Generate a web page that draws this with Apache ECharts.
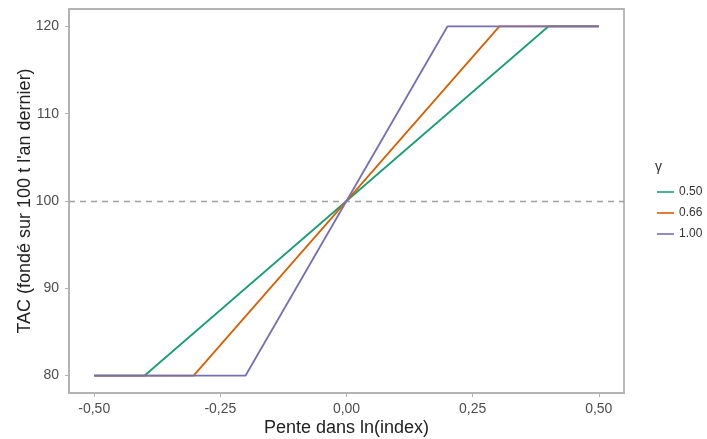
<!DOCTYPE html>
<html><head><meta charset="utf-8">
<script src="https://cdn.jsdelivr.net/npm/echarts@6/dist/echarts.min.js"></script>
<style>html,body{margin:0;padding:0;background:#fff}#c{width:707px;height:439px}</style>
</head><body><div id="c"></div>
<script>
var gammaNames = ['0.50', '0.66', '1.00'];
var colors = ['#1b9e77', '#d95f02', '#7570b3'];
var slope050 = [-0.5, -0.4, 0.4, 0.5];
var tac050 = [80, 80, 120, 120];
var slope066 = [-0.5, -0.303, 0.303, 0.5];
var tac066 = [80, 80, 120, 120];
var slope100 = [-0.5, -0.2, 0.2, 0.5];
var tac100 = [80, 80, 120, 120];
var xTicks = [-0.5, -0.25, 0, 0.25, 0.5];
var yTicks = [80, 90, 100, 110, 120];
var refLine = 100;

function pairs(xs, ys){ return xs.map(function(x,i){ return [x, ys[i]]; }); }
var seriesData = [pairs(slope050, tac050), pairs(slope066, tac066), pairs(slope100, tac100)];
var font = 'Liberation Sans, Arial, sans-serif';

var chart = echarts.init(document.getElementById('c'));
var series = gammaNames.map(function(n, i){
  return {name: n, type: 'line', data: seriesData[i], symbol: 'none',
    lineStyle: {color: colors[i], width: 1.8}, itemStyle: {color: colors[i]}, z: 3 + i};
});
series[0].markLine = {silent: true, symbol: 'none', label: {show: false},
  lineStyle: {color: '#a0a0a0', type: [6, 5], width: 1.4},
  data: [{yAxis: refLine}]};
chart.setOption({
  animation: false,
  title: {text: 'γ', left: 650, top: 155, textStyle: {fontFamily: font, fontSize: 14, fontWeight: 'normal', color: '#333'}},
  legend: {orient: 'vertical', left: 652, top: 181, itemWidth: 17, itemHeight: 10, itemGap: 9,
    icon: 'path://M0,4.2 L17,4.2 L17,5.8 L0,5.8 Z',
    textStyle: {fontFamily: font, fontSize: 12, color: '#333'},
    data: gammaNames.map(function(n,i){ return {name: n, itemStyle: {color: colors[i]}}; })},
  grid: {left: 69, right: 83, top: 9, bottom: 46, outerBoundsMode: 'none', containLabel: false,
    show: true, borderColor: '#b3b3b3', borderWidth: 1.8, backgroundColor: '#fff'},
  xAxis: {type: 'value', min: -0.55, max: 0.55,
    name: 'Pente dans ln(index)', nameLocation: 'middle', nameGap: 26, nameMoveOverlap: false,
    nameTextStyle: {fontFamily: font, fontSize: 18, color: '#222', verticalAlign: 'top'},
    axisLine: {show: true, onZero: false, lineStyle: {color: '#b3b3b3', width: 1.8}},
    axisTick: {show: true, inside: false, customValues: xTicks, length: 4, lineStyle: {color: '#b3b3b3', width: 1}},
    axisLabel: {customValues: xTicks, fontFamily: font, fontSize: 14, color: '#4d4d4d', margin: 9,
      formatter: function(v){ return v.toFixed(2).replace('.', ','); }},
    splitLine: {show: false}},
  yAxis: {type: 'value', min: 78, max: 122,
    name: "TAC (fondé sur 100 t l'an dernier)", nameLocation: 'middle', nameGap: 35, nameRotate: 90, nameMoveOverlap: false,
    nameTextStyle: {fontFamily: font, fontSize: 18, color: '#222'},
    axisLine: {show: true, onZero: false, lineStyle: {color: '#b3b3b3', width: 1.8}},
    axisTick: {show: true, inside: false, customValues: yTicks, length: 4, lineStyle: {color: '#b3b3b3', width: 1}},
    axisLabel: {customValues: yTicks, fontFamily: font, fontSize: 14, color: '#4d4d4d', margin: 10},
    splitLine: {show: false}},
  series: series
});
</script></body></html>
